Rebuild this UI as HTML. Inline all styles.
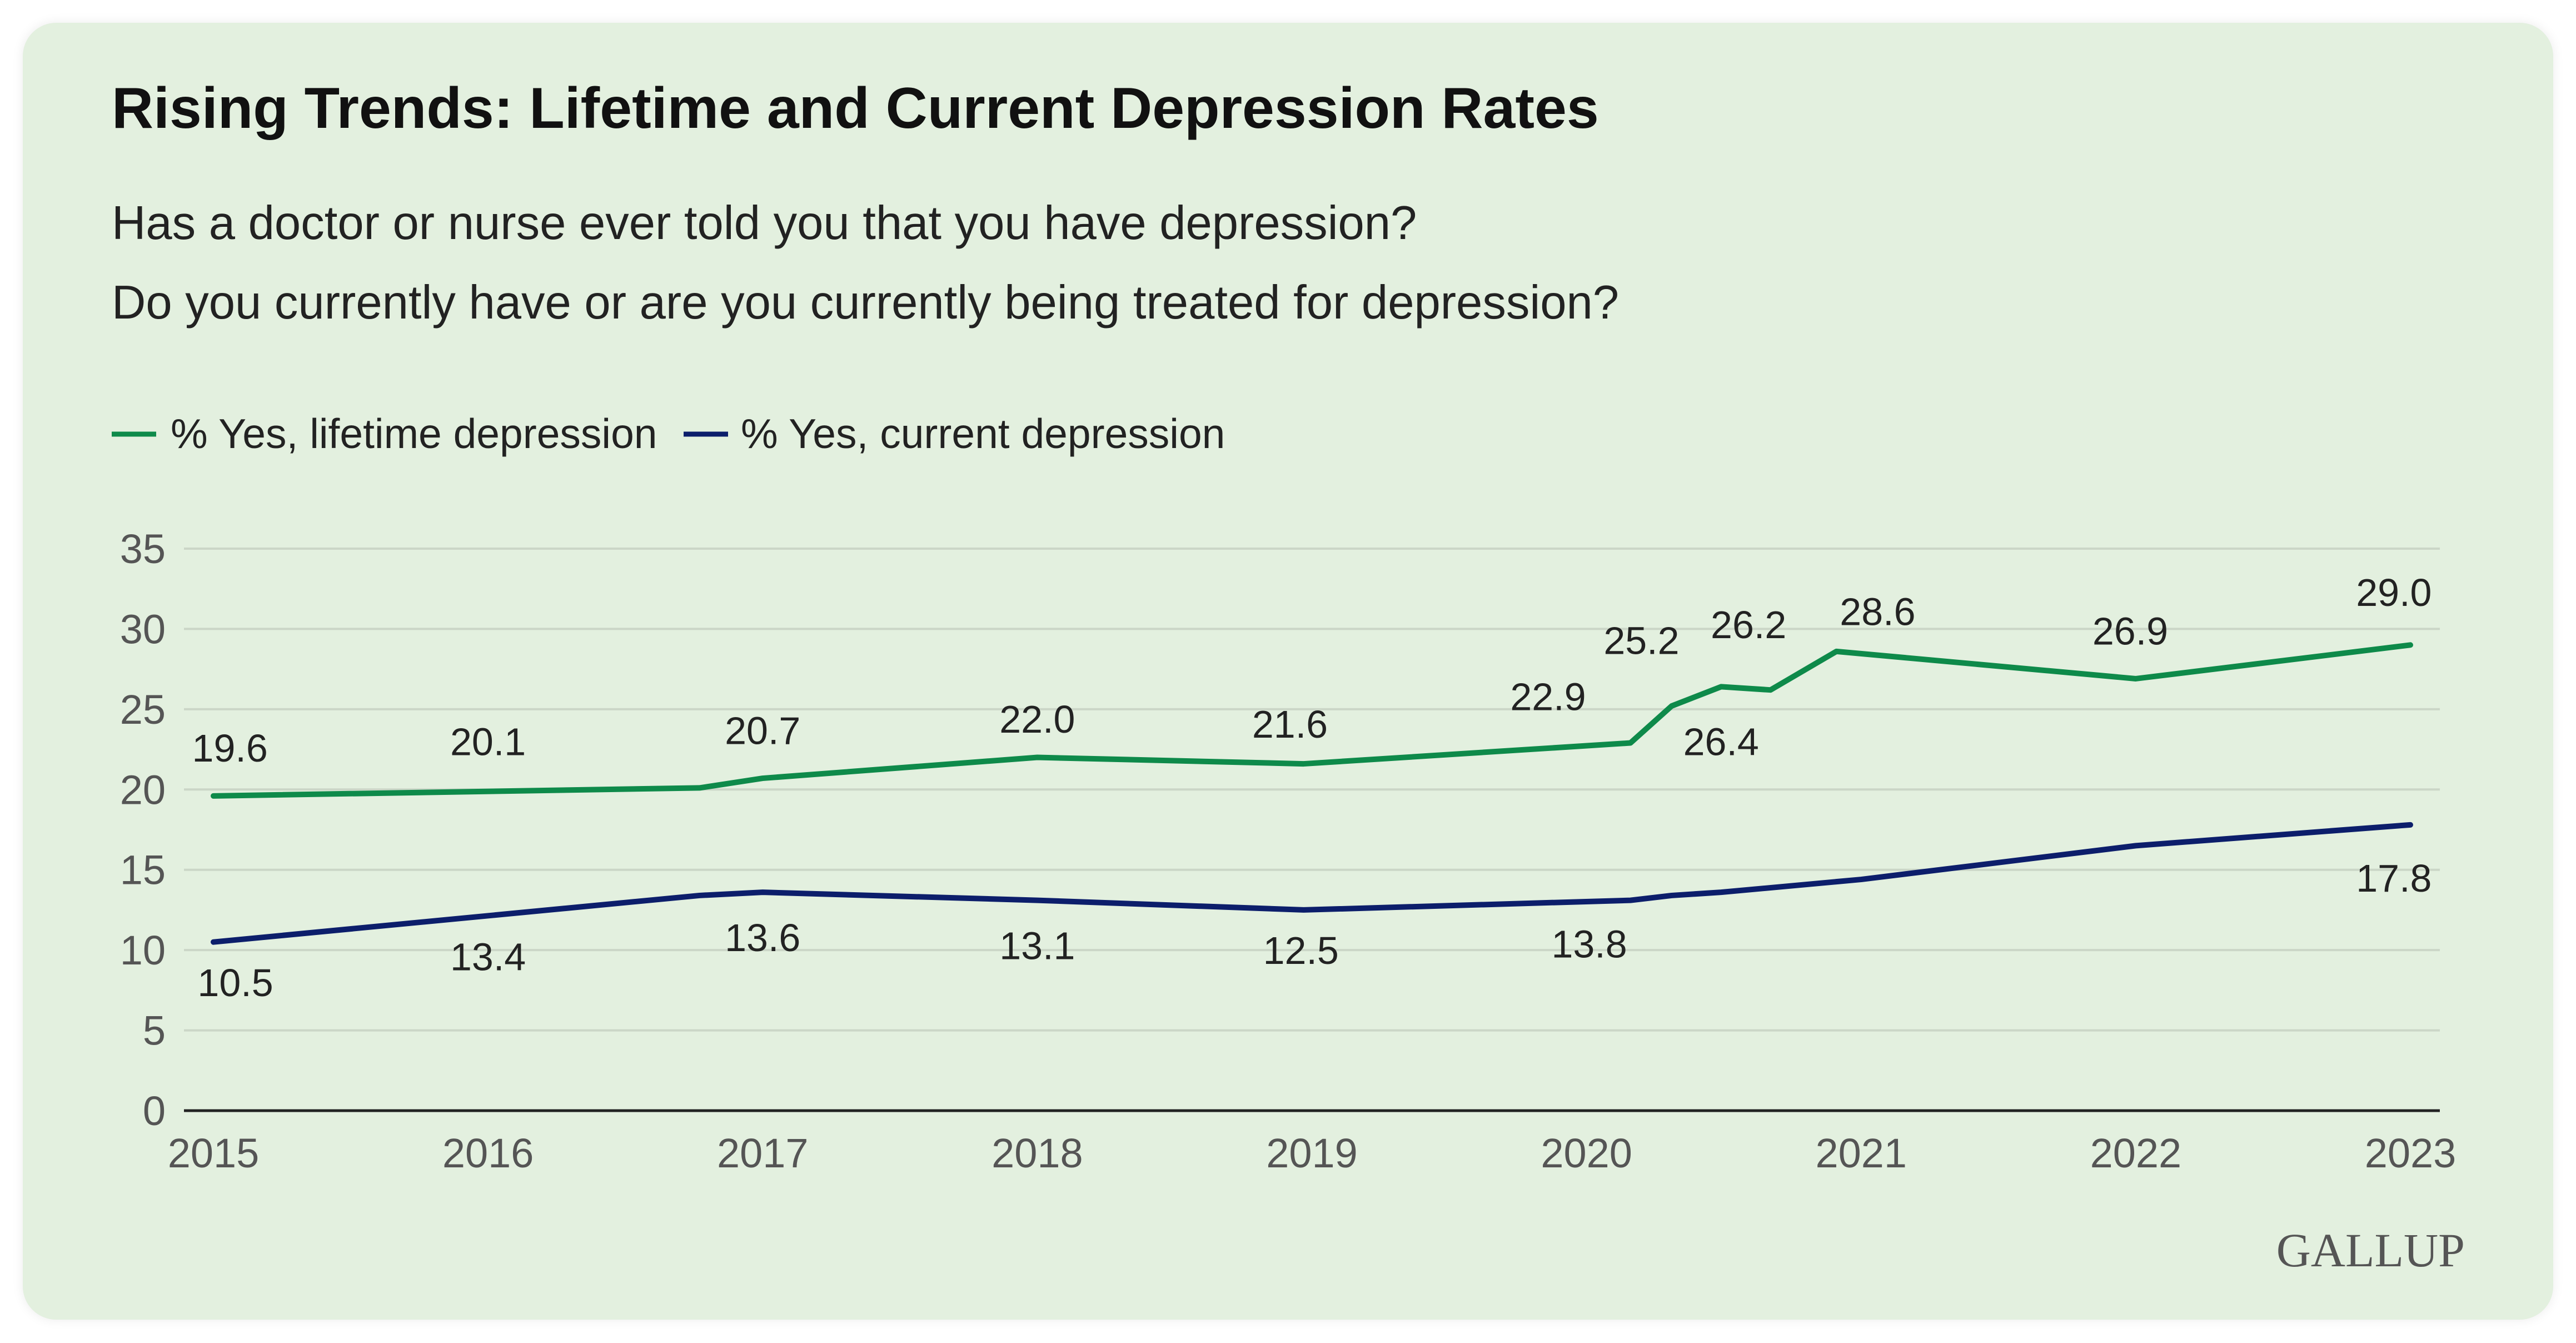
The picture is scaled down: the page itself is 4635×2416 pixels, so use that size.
<!DOCTYPE html>
<html><head><meta charset="utf-8"><style>
html,body{margin:0;padding:0;background:#fff;}
body{width:4635px;height:2416px;position:relative;overflow:hidden;font-family:"Liberation Sans",sans-serif;}
#card{position:absolute;left:41px;top:41px;width:4553px;height:2333px;background:#e3f0df;border-radius:60px;box-shadow:0 0 20px rgba(0,0,0,0.08);}
</style></head><body>
<div id="card"></div>
<svg id="chart" width="4635" height="2416" style="position:absolute;left:0;top:0" xmlns="http://www.w3.org/2000/svg">
<text x="201" y="230" font-family="Liberation Sans, sans-serif" font-weight="bold" font-size="104" fill="#111">Rising Trends: Lifetime and Current Depression Rates</text>
<text x="201" y="430" font-family="Liberation Sans, sans-serif" font-size="85" fill="#222">Has a doctor or nurse ever told you that you have depression?</text>
<text x="201" y="573" font-family="Liberation Sans, sans-serif" font-size="85" fill="#222">Do you currently have or are you currently being treated for depression?</text>
<g>
<line x1="201" y1="781" x2="281" y2="781" stroke="#0e8a4a" stroke-width="9"/>
<text x="307" y="806" font-size="75" font-family="Liberation Sans, sans-serif" fill="#222">% Yes, lifetime depression</text>
<line x1="1230" y1="781" x2="1310" y2="781" stroke="#0c1e6b" stroke-width="9"/>
<text x="1333" y="806" font-size="75" font-family="Liberation Sans, sans-serif" fill="#222">% Yes, current depression</text>
</g>
<g id="plot"></g>
<text x="4435" y="2278" text-anchor="end" font-family="Liberation Serif, serif" font-size="86" fill="#555">GALLUP</text>
</svg>
<script>
const yTicks=[0,5,10,15,20,25,30,35];
const xTicks=[2015,2016,2017,2018,2019,2020,2021,2022,2023];
const lifeX=[2015,2016.77,2017,2018,2018.97,2020.16,2020.31,2020.49,2020.67,2020.91,2022,2023];
const lifeV=[19.6,20.1,20.7,22.0,21.6,22.9,25.2,26.4,26.2,28.6,26.9,29.0];
const curX=[2015,2016.77,2017,2018,2018.97,2020.16,2020.31,2020.49,2021,2022,2023];
const curV=[10.5,13.4,13.6,13.1,12.5,13.1,13.4,13.6,14.4,16.5,17.8];
const lifeLabelText=["19.6","20.1","20.7","22.0","21.6","22.9","25.2","26.2","26.4","28.6","26.9","29.0"];
const lifeLabelX=[2015.06,2016.0,2017.0,2018.0,2018.92,2019.86,2020.2,2020.59,2020.49,2021.06,2021.98,2022.94];
const lifeLabelV=[22.6,23.0,23.7,24.4,24.1,25.8,29.3,30.3,23.0,31.1,29.9,32.3];
const curLabelText=["10.5","13.4","13.6","13.1","12.5","13.8","17.8"];
const curLabelX=[2015.08,2016.0,2017.0,2018.0,2018.96,2020.01,2022.94];
const curLabelV=[8.0,9.6,10.8,10.3,10.0,10.4,14.5];
const X0=384,X1=4337,Y0=1998,Y35=987;
const xs=v=>X0+(v-2015)/8*(X1-X0);
const ys=v=>Y0-v/35*(Y0-Y35);
const NS="http://www.w3.org/2000/svg";
const g=document.getElementById('plot');
function mk(t,a){const e=document.createElementNS(NS,t);for(const k in a)e.setAttribute(k,a[k]);g.appendChild(e);return e;}
yTicks.forEach(t=>{
  if(t>0){const l=mk('line',{x1:331,x2:4390,y1:ys(t),y2:ys(t),stroke:'#cbd6c7','stroke-width':4});
  
  }
  const tx=mk('text',{x:298,y:ys(t)+26,'text-anchor':'end','font-size':74,'font-family':'Liberation Sans, sans-serif',fill:'#555'});
  tx.textContent=t;
  
  
});
const ax=mk('line',{x1:331,x2:4390,y1:Y0,y2:Y0,stroke:'#222','stroke-width':5});


xTicks.forEach(t=>{
  const tx=mk('text',{x:xs(t),y:2100,'text-anchor':'middle','font-size':74,'font-family':'Liberation Sans, sans-serif',fill:'#555'});
  tx.textContent=t;
  
  
});
function line(X,V,col,name){
  const p=mk('polyline',{points:X.map((x,i)=>xs(x)+','+ys(V[i])).join(' '),fill:'none',stroke:col,'stroke-width':10,'stroke-linejoin':'round','stroke-linecap':'round'});
  
  
}
line(lifeX,lifeV,'#0e8a4a','lifetime-depression-line');
line(curX,curV,'#0c1e6b','current-depression-line');
function labels(T,X,V,name){
  T.forEach((t,i)=>{
    const tx=mk('text',{x:xs(X[i]),y:ys(V[i])+25,'text-anchor':'middle','font-size':70,'font-family':'Liberation Sans, sans-serif',fill:'#222'});
    tx.textContent=t;
    
    
  });
}
labels(lifeLabelText,lifeLabelX,lifeLabelV,'lifetime-value-label');
labels(curLabelText,curLabelX,curLabelV,'current-value-label');
</script>
</body></html>
